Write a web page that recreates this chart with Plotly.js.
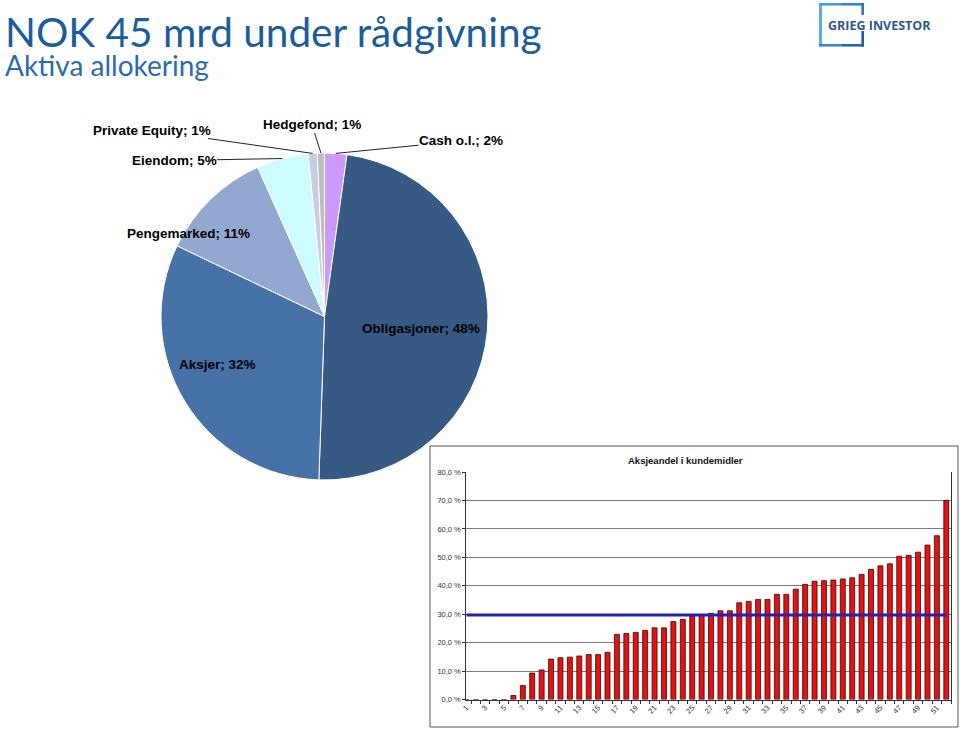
<!DOCTYPE html>
<html><head><meta charset="utf-8">
<script src="https://cdn.plot.ly/plotly-3.0.1.min.js"></script>
<style>html,body{margin:0;padding:0;background:#fff;overflow:hidden}#chart{width:960px;height:729px}</style>
</head><body><div id="chart"></div>
<script>
// ---------- DATA ----------
const assetNames  = ['Cash o.l.', 'Obligasjoner', 'Aksjer', 'Pengemarked', 'Eiendom', 'Private Equity', 'Hedgefond'];
const assetShares = [2.2, 48.4, 31.6, 11.2, 5.1, 0.9, 0.7];

const clientNo = [1,2,3,4,5,6,7,8,9,10,11,12,13,14,15,16,17,18,19,20,21,22,23,24,25,26,
                  27,28,29,30,31,32,33,34,35,36,37,38,39,40,41,42,43,44,45,46,47,48,49,50,51,52];
const equityShare = [0,0,0,0,0,1.4,4.9,9.3,10.4,14.2,14.7,14.9,15.3,15.8,15.8,16.6,22.9,23.2,23.6,24.3,
                     25.2,25.2,27.4,28.2,29.4,29.5,30.3,31.2,31.2,34.0,34.5,35.2,35.2,37.0,37.0,38.8,
                     40.5,41.6,41.8,42.0,42.4,42.8,44.0,45.8,47.0,47.7,50.4,50.7,51.8,54.3,57.6,70.0];
const averageShare = 29.7;
const xTickVals = [1,3,5,7,9,11,13,15,17,19,21,23,25,27,29,31,33,35,37,39,41,43,45,47,49,51];
const yTickVals = [0,10,20,30,40,50,60,70,80];
const yTickText = ['0,0 %','10,0 %','20,0 %','30,0 %','40,0 %','50,0 %','60,0 %','70,0 %','80,0 %'];

const pageTitle = 'NOK 45 mrd under rådgivning';
const pageSubtitle = 'Aktiva allokering';
const barTitle = 'Aksjeandel i kundemidler';
const logoText = 'GRIEG INVESTOR';

// ---------- STYLE / LAYOUT ----------
const W = 960, H = 729;
const px = x => x / W, py = y => 1 - y / H;
const assetColors = ['#cc99ff', '#375a85', '#4672a8', '#93a8d0', '#ccfcfe', '#c9cce2', '#babfba'];
const pie = {cx: 324.5, cy: 316.5, r: 163.5};
// label centres (pixels) and whether a leader line is drawn
const labelPos = [[461, 141], [421, 328], [217, 364], [188, 233], [174, 160.5], [152, 130.5], [312, 125]];
const withLeader = [true, false, false, false, true, true, true];
const labelFont = {family: 'Liberation Sans, Arial, sans-serif', size: 13.5, color: '#000'};

const total = assetShares.reduce((a, b) => a + b, 0);
let cum = 0; const midAng = [];
assetShares.forEach(v => { midAng.push((cum + v / 2) / total * 2 * Math.PI); cum += v; });

const annotations = assetNames.map((n, i) => {
  const text = '<b>' + n + '; ' + Math.round(assetShares[i]) + '%</b>';
  const [tx, ty] = labelPos[i];
  if (withLeader[i]) {
    const hx = pie.cx + pie.r * Math.sin(midAng[i]);
    const hy = pie.cy - pie.r * Math.cos(midAng[i]);
    return {xref: 'paper', yref: 'paper', x: px(hx), y: py(hy), ax: tx - hx, ay: ty - hy,
      text, showarrow: true, arrowhead: 0, arrowwidth: 1, arrowcolor: '#222', standoff: 0,
      borderpad: 0, font: labelFont};
  }
  return {xref: 'paper', yref: 'paper', x: px(tx), y: py(ty), text, showarrow: false,
    xanchor: 'center', yanchor: 'middle', font: labelFont};
});

annotations.push(
  {xref: 'paper', yref: 'paper', x: px(3), y: py(5), xanchor: 'left', yanchor: 'top', showarrow: false, align: 'left',
   text: '<span style="font-size:40.5px">' + pageTitle + '</span><br><span style="font-size:28px;color:#2a6bb0">' + pageSubtitle + '</span>',
   font: {family: 'Lato, Open Sans, sans-serif', size: 22.3, color: '#1b5c9e'}},
  {xref: 'paper', yref: 'paper', x: px(685), y: py(460), xanchor: 'center', yanchor: 'middle', showarrow: false,
   text: '<b>' + barTitle + '</b>', font: {family: 'Liberation Sans, Arial, sans-serif', size: 9.5, color: '#111'}},
  {xref: 'paper', yref: 'paper', x: px(879), y: py(26), xanchor: 'center', yanchor: 'middle', showarrow: false,
   text: '<b>' + logoText + '</b>', font: {family: 'Open Sans, sans-serif', size: 12.5, color: '#2f5a8a'}}
);

const seg = (x0, y0, x1, y1, c, w) => ({type: 'line', xref: 'paper', yref: 'paper',
  x0: px(x0), y0: py(y0), x1: px(x1), y1: py(y1), line: {color: c, width: w}});

const shapes = [
  {type: 'rect', xref: 'paper', yref: 'paper', x0: px(430), y0: py(446), x1: px(958), y1: py(727),
   line: {color: '#555', width: 1}, fillcolor: 'rgba(0,0,0,0)', layer: 'below'},
  // logo bracket
  seg(820.5, 3, 820.5, 46.5, '#5aaae6', 3),
  seg(819, 4.3, 842, 4.3, '#4c9be0', 2.6),
  seg(842, 4.3, 864, 4.3, '#3a84cf', 2.6),
  seg(862.7, 3, 862.7, 15, '#2f74c0', 2.6),
  seg(819, 45.3, 842, 45.3, '#3d88d0', 2.6),
  seg(842, 45.3, 864, 45.3, '#2466b0', 2.6),
  seg(862.7, 31, 862.7, 46.6, '#1f5ea6', 2.6)
];

const traces = [
  {type: 'pie', labels: assetNames, values: assetShares, sort: false, direction: 'clockwise', rotation: 0,
   marker: {colors: assetColors, line: {color: '#ffffff', width: 1}}, textinfo: 'none', hoverinfo: 'none',
   showlegend: false,
   domain: {x: [px(pie.cx - pie.r), px(pie.cx + pie.r)], y: [py(pie.cy + pie.r), py(pie.cy - pie.r)]}},
  {type: 'bar', x: clientNo, y: equityShare, xaxis: 'x', yaxis: 'y', showlegend: false, hoverinfo: 'none',
   marker: {color: '#e01212', line: {color: '#4a0000', width: 0.8}}},
  {type: 'scatter', mode: 'lines', x: [clientNo[0], clientNo[clientNo.length - 1]], y: [averageShare, averageShare],
   xaxis: 'x', yaxis: 'y', showlegend: false, hoverinfo: 'none', line: {color: '#2222b4', width: 3}}
];

const tickFont = {family: 'Liberation Sans, Arial, sans-serif', size: 7.5, color: '#333'};
const layout = {
  width: W, height: H, margin: {l: 0, r: 0, t: 0, b: 0}, paper_bgcolor: '#fff', plot_bgcolor: 'rgba(0,0,0,0)',
  showlegend: false, bargap: 0.47,
  xaxis: {domain: [px(466.3), px(951)], range: [0.995, 52.5], tickmode: 'array', tickvals: xTickVals,
    ticktext: xTickVals.map(String), ticks: '', tickangle: -45,
    showline: true, linecolor: '#333', linewidth: 1, showgrid: false, zeroline: false, tickfont: tickFont,
    fixedrange: true,
    minor: {tick0: 0.5, dtick: 1, ticks: 'outside', ticklen: 3, tickcolor: '#333', showgrid: false}},
  yaxis: {domain: [py(699.5), py(472)], range: [0, 80], tickmode: 'array', tickvals: yTickVals, ticktext: yTickText,
    showline: true, mirror: true, linecolor: '#333', linewidth: 1, ticks: 'outside', ticklen: 3, tickcolor: '#333',
    gridcolor: '#7a7a7a', gridwidth: 1, zeroline: false, tickfont: tickFont, fixedrange: true},
  annotations, shapes
};

Plotly.newPlot('chart', traces, layout, {displayModeBar: false, staticPlot: true});
</script></body></html>
